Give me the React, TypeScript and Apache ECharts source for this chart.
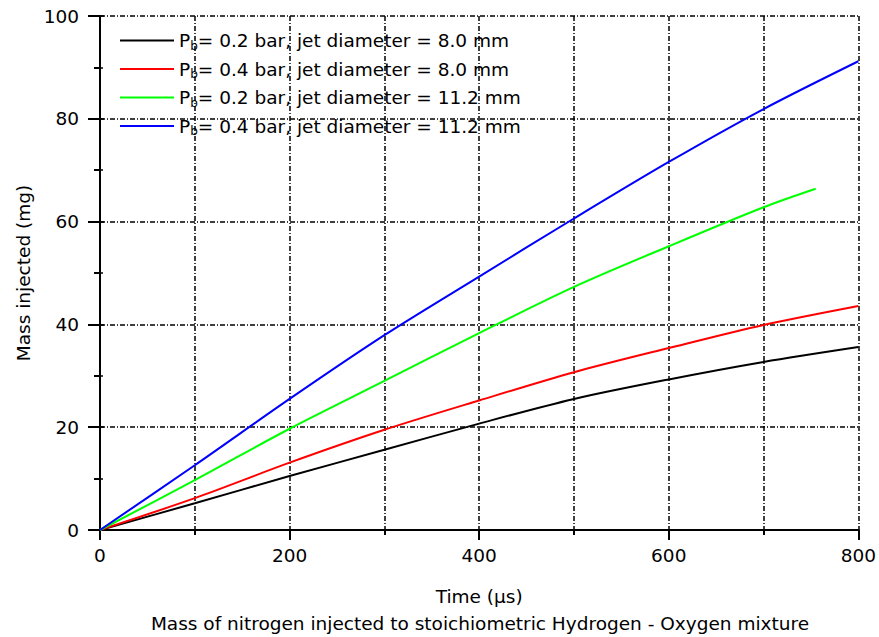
import React, { useEffect, useRef } from "react";
import * as echarts from "echarts";

const timeUs = [0, 100, 200, 300, 400, 500, 600, 700, 800];
const black02bar8mm = [0, 5.2, 10.5, 15.6, 20.7, 25.5, 29.3, 32.7, 35.6];
const red04bar8mm = [0, 6.2, 13.1, 19.5, 25.2, 30.7, 35.4, 39.9, 43.6];
const greenTime = [0, 100, 200, 300, 400, 500, 600, 700, 755];
const green02bar112mm = [0, 9.7, 19.7, 29.0, 38.3, 47.3, 55.2, 62.8, 66.4];
const blue04bar112mm = [0, 12.6, 25.5, 37.9, 49.3, 60.6, 71.6, 81.9, 91.2];

const seriesNames = [
  "Pb= 0.2 bar, jet diameter = 8.0 mm",
  "Pb= 0.4 bar, jet diameter = 8.0 mm",
  "Pb= 0.2 bar, jet diameter = 11.2 mm",
  "Pb= 0.4 bar, jet diameter = 11.2 mm",
];
const seriesColors = ["#000000", "#ff0000", "#00ff00", "#0000ff"];

const xTitle = "Time (μs)";
const yTitle = "Mass injected (mg)";
const caption = "Mass of nitrogen injected to stoichiometric Hydrogen - Oxygen mixture";

const FONT = "'DejaVu Sans', sans-serif";
const FS = 18.5;

function pairs(xs: number[], ys: number[]) {
  return xs.map((x, i) => [x, ys[i]]);
}

export default function App() {
  const ref = useRef<HTMLDivElement>(null);
  useEffect(() => {
    document.body.style.margin = "0";
    const chart = echarts.init(ref.current!, undefined, { renderer: "svg" });
    const gridLine = { show: true, lineStyle: { color: "#000", width: 1.5, type: [5, 2, 1, 2] as any } };
    const dataSets = [
      pairs(timeUs, black02bar8mm),
      pairs(timeUs, red04bar8mm),
      pairs(greenTime, green02bar112mm),
      pairs(timeUs, blue04bar112mm),
    ];
    const legendTops = [31, 59.5, 88, 116.5];
    const option: any = {
      animation: false,
      backgroundColor: "#fff",
      textStyle: { fontFamily: FONT },
      title: {
        text: caption,
        left: 480,
        textAlign: "center",
        top: 611,
        padding: 0,
        textStyle: { fontFamily: FONT, fontSize: FS, fontWeight: "normal", color: "#000", lineHeight: 24 },
      },
      grid: { left: 100, right: 19, top: 16, bottom: 107, containLabel: false },
      legend: seriesNames.map((n, i) => ({
        data: [n],
        orient: "vertical",
        left: 120,
        top: legendTops[i],
        padding: 0,
        icon: "rect",
        itemWidth: 54,
        itemHeight: 2,
        itemGap: 6,
        selectedMode: false,
        formatter: (name: string) => `{a|P}{s|b}{a|${name.slice(2)}}`,
        textStyle: {
          rich: {
            a: { fontFamily: FONT, fontSize: FS, color: "#000", lineHeight: 22 },
            s: { fontFamily: FONT, fontSize: 12, color: "#000", lineHeight: 10, verticalAlign: "bottom" },
          },
        },
      })),
      xAxis: [
        {
          type: "value",
          min: 0,
          max: 800,
          interval: 200,
          name: xTitle,
          nameLocation: "middle",
          nameGap: 57,
          nameTextStyle: { fontFamily: FONT, fontSize: FS, color: "#000" },
          axisLine: { show: true, lineStyle: { color: "#000", width: 2 } },
          axisTick: { show: true, length: 10, lineStyle: { color: "#000", width: 2 } },
          minorTick: { show: true, splitNumber: 2, length: 5, lineStyle: { color: "#000", width: 2 } },
          axisLabel: { fontFamily: FONT, fontSize: FS, color: "#000", margin: 16 },
          splitLine: gridLine,
          minorSplitLine: gridLine,
        },
        {
          type: "value",
          position: "top",
          min: 0,
          max: 800,
          interval: 200,
          axisLine: { show: true, lineStyle: { color: "#000", width: 2 } },
          axisTick: { show: false },
          axisLabel: { show: false },
          splitLine: { show: false },
        },
      ],
      yAxis: [
        {
          type: "value",
          min: 0,
          max: 100,
          interval: 20,
          name: yTitle,
          nameLocation: "middle",
          nameGap: 66,
          nameTextStyle: { fontFamily: FONT, fontSize: FS, color: "#000" },
          axisLine: { show: true, lineStyle: { color: "#000", width: 2 } },
          axisTick: { show: true, length: 12, lineStyle: { color: "#000", width: 2 } },
          minorTick: { show: true, splitNumber: 2, length: 6, lineStyle: { color: "#000", width: 2 } },
          axisLabel: { fontFamily: FONT, fontSize: FS, color: "#000", margin: 21 },
          splitLine: gridLine,
        },
        {
          type: "value",
          position: "right",
          min: 0,
          max: 100,
          interval: 20,
          axisLine: { show: true, lineStyle: { color: "#000", width: 2 } },
          axisTick: { show: true, length: 4, lineStyle: { color: "#000", width: 1.5 } },
          minorTick: { show: true, splitNumber: 2, length: 3, lineStyle: { color: "#000", width: 1.5 } },
          axisLabel: { show: false },
          splitLine: { show: false },
        },
      ],
      series: seriesNames.map((n, i) => ({
        name: n,
        type: "line",
        data: dataSets[i],
        showSymbol: false,
        symbol: "none",
        smooth: 0.3,
        color: seriesColors[i],
        lineStyle: { color: seriesColors[i], width: 2 },
        z: 3,
      })),
    };
    chart.setOption(option);
    return () => chart.dispose();
  }, []);
  return <div ref={ref} style={{ width: 879, height: 637, position: "absolute", left: 0, top: 0 }} />;
}
